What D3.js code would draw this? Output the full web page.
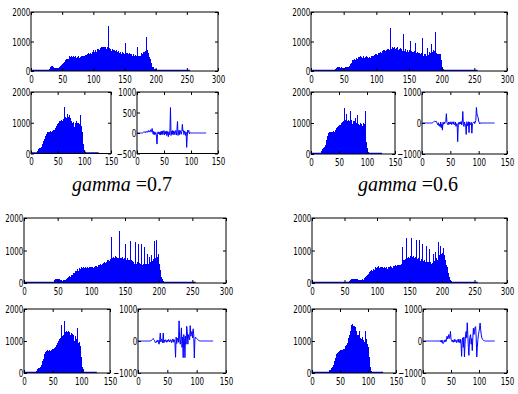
<!DOCTYPE html>
<html><head><meta charset="utf-8">
<script src="https://cdn.jsdelivr.net/npm/d3@7"></script>
<style>
html,body{margin:0;padding:0;background:#fff;}
svg{display:block;}
.tick text{font-family:"Liberation Sans Narrow","Arial Narrow","DejaVu Sans Condensed","Liberation Sans",sans-serif;font-size:11px;fill:#000;}
.cap{font-family:"Liberation Serif","Times New Roman",serif;font-size:20px;fill:#000;}
</style></head><body>
<svg id="chart" width="518" height="394"></svg>
<script>
// ---------- tick labels ----------
const bigXTicks = [0, 50, 100, 150, 200, 250, 300];
const smallXTicks = [0, 50, 100, 150];
const histYTicks = [0, 1000, 2000];
const diffYTicksA = [-500, 0, 500, 1000];
const diffYTicksB = [-1000, 0, 1000];
const captionWord = "gamma";
const captionValues = ["0.7", "0.6"];

// ---------- group 1 (gamma = 0.7) ----------
const big1Start = 28;
const big1 = [20,40,80,120,150,160,170,150,
130,110,100,90,100,110,100,90,110,120,130,150,
160,190,210,230,260,300,280,320,370,400,410,380,
420,470,500,450,480,510,440,470,500,460,420,480,
500,450,470,430,490,500,450,480,440,500,510,470,
520,480,500,540,500,530,560,510,580,600,560,590,
620,570,600,640,610,700,650,680,720,660,700,740,
690,760,720,780,740,800,770,810,760,800,830,780,
820,760,800,720,780,1520,780,700,740,680,720,760,
700,660,720,680,640,700,660,620,680,640,600,660,
620,580,640,600,560,620,580,600,940,600,560,620,
580,540,600,560,520,580,540,500,560,520,500,540,
500,480,520,810,500,460,520,480,500,540,600,580,
620,660,640,690,660,700,1140,700,620,560,480,400,
330,260,200,150,120,100,80,70,60,60,50,30,
20,15,10,8,5,3,2];
const small1Start = 12;
const small1 = [30,80,150,170,160,190,180,200,210,250,300,360,
400,450,480,520,560,640,680,700,690,710,680,700,
720,690,700,680,720,700,740,760,780,800,820,860,
880,920,950,980,1000,1050,1020,1060,1000,1080,1100,1060,
1120,1080,1500,1150,1100,1200,1080,1160,1100,1300,1050,1200,
1250,1000,1150,1050,980,1000,950,1020,900,720,850,1000,
950,1000,1050,920,980,1000,900,950,1260,980,900,850,
700,500,300,180,100,60,40,25,15,10,5];
const diff1Start = 10;
const diff1 = [0,10,20,30,20,30,10,40,20,30,20,60,
30,40,20,80,40,30,110,20,-30,40,-40,20,
-30,10,-80,-270,-40,30,-20,20,-40,30,-50,40,
-30,50,-40,20,60,-50,30,-20,50,-60,40,-30,
-90,30,-40,50,620,-60,40,-30,60,-40,50,30,
-40,60,30,-50,90,280,-60,40,70,-40,60,30,
-30,40,210,50,60,-40,50,30,-60,20,-350,-80,
70,20,60,-20,10,5,0];

// ---------- group 2 (gamma = 0.6) ----------
const big2Start = 36;
const big2 = [20,40,70,100,120,140,130,140,120,110,130,100,
110,100,90,110,100,120,110,130,120,140,150,170,
200,240,280,320,360,380,350,400,370,420,450,400,
460,430,480,450,500,460,490,440,480,500,450,490,
470,500,460,480,450,490,470,440,500,460,520,480,
500,540,520,560,520,580,540,600,560,620,580,640,
600,680,640,700,660,720,680,700,660,740,700,760,
720,780,1470,760,820,700,780,720,820,760,700,780,
740,800,700,760,720,780,700,740,680,1250,720,680,
760,700,660,720,680,640,700,660,1020,640,680,620,
660,640,600,680,940,620,580,640,600,560,620,580,
540,600,1130,560,520,580,540,500,560,520,770,560,
540,600,640,620,680,930,660,700,640,680,600,1320,
620,580,520,560,580,540,560,360,200,120,80,60,
50,40,40,30,30,25,20,20,15,15,10,10,
10,10,8,8,6,6,5,5,4,3];
const small2Start = 16;
const small2 = [20,40,60,100,120,150,180,200,220,260,300,380,
450,520,580,640,680,700,690,710,700,720,680,700,
720,740,700,760,780,800,840,820,880,900,860,920,
950,900,980,1000,1040,1000,1080,1480,1050,1000,1100,1060,
1300,1080,1020,1100,1000,1050,1380,1000,1100,1020,960,1080,
1000,1050,980,1020,1150,960,1000,1250,920,980,900,950,
1000,880,940,980,900,960,1000,920,980,1390,900,400,
200,100,60,40,25,15,10,8,6,5,3];
const diff2Start = 18;
const diff2 = [0,10,30,50,60,40,50,60,20,-20,-60,10,
-90,-40,-120,30,-150,-30,-230,20,-40,30,-20,40,
60,300,20,-30,-60,30,-40,20,-30,40,-50,20,
30,-40,40,-30,-60,30,-110,-30,-20,-600,-60,20,
-40,30,-30,50,-60,20,370,-40,-110,30,-60,-50,
-370,40,-30,-100,40,-310,30,-40,-60,20,-330,-20,
10,20,40,-20,30,80,500,300,220,180,60,20,
-30,0,10,0];

// ---------- group 3 ----------
const big3Start = 44;
const big3 = [20,50,80,110,130,120,110,130,100,120,90,80,
90,70,80,70,90,80,100,120,140,160,180,200,
220,200,240,260,250,280,300,320,340,380,360,400,
420,380,440,460,420,480,500,460,480,440,470,480,
60,460,480,500,470,490,460,480,500,470,480,450,
500,470,520,480,530,500,540,510,560,530,580,550,
600,570,620,590,640,610,660,620,700,660,720,690,
700,740,1420,760,720,800,780,760,820,740,800,760,
780,740,1600,780,720,760,800,700,740,780,1200,740,
700,760,680,720,700,660,1280,700,640,680,620,660,
600,640,1250,600,640,580,1200,620,560,600,1190,560,
540,600,560,1100,600,540,580,900,560,600,620,800,
640,700,850,680,740,700,1300,760,720,1320,800,760,
900,600,400,250,180,120,80,50,40,30,25,20,
20,15,15,12,10,10,8,8,6,5,5,4,3,3,2,2,2];
const small3Start = 20;
const small3 = [20,40,60,80,120,150,130,160,200,180,220,250,
300,380,450,520,580,620,660,700,680,720,690,700,
680,720,700,690,720,740,700,760,740,780,760,800,
820,860,900,940,980,1000,1050,1020,1100,1500,1080,1150,
1050,1200,1640,1100,1280,1200,1300,1150,1290,1250,1300,1180,
1280,1200,1250,1100,1220,1150,1180,1050,1000,1100,1150,980,
1050,1400,1000,950,980,900,850,700,500,350,200,120,
70,40,25,15,10,6,4];
const diff3Start = 22;
const diff3 = [0,20,40,60,80,40,20,-30,-60,-40,10,-20,
30,-60,-100,40,250,-30,60,20,-50,250,-60,30,
-20,40,10,-40,30,-20,50,20,-30,40,30,-50,
20,60,-40,50,30,-60,-510,120,-80,90,30,-40,
630,50,-100,60,410,-200,120,-520,200,80,-520,150,
-100,460,300,-100,200,100,40,480,150,200,300,100,
380,200,-530,50,120,100,80,60,40,20,10,5,
0];

// ---------- group 4 ----------
const big4Start = 56;
const big4 = [20,40,60,80,100,110,120,110,130,120,110,125,
130,120,110,90,100,80,90,100,80,90,110,100,
120,150,170,200,230,220,260,290,300,340,360,380,
400,370,420,440,400,460,480,450,500,480,520,500,
470,500,460,490,470,500,450,480,500,460,490,470,
440,480,460,500,470,510,480,500,460,510,480,520,
500,540,510,550,520,560,530,540,560,520,580,1120,
700,660,720,680,740,700,1380,760,720,800,780,820,
760,1390,800,760,820,780,740,800,760,1330,740,700,
760,1330,720,680,740,700,1200,680,640,700,660,620,
1130,640,600,660,620,1050,600,640,580,620,600,900,
620,680,950,700,760,720,800,1250,860,900,1150,880,
920,860,1080,900,860,700,620,560,500,420,300,200,
150,100,70,50,40,30,30,25,20,20,15,15,
12,12,10,10,10,8,8,8,6,6,5,5,4,4,3,3,2];
const small4Start = 28;
const small4 = [10,20,40,60,80,100,120,160,180,200,170,240,
300,380,460,520,580,620,600,660,640,700,680,720,
700,730,690,720,710,740,760,800,840,820,880,900,
940,1100,1020,1200,1150,1300,1500,1380,1520,1420,1480,1400,
1460,1380,1440,1300,1250,1200,1150,1180,1100,1300,1050,1100,
1000,1050,1110,1000,1040,980,950,1000,1300,1050,1000,900,
800,650,500,350,200,100,50,30,20,12,8,5,
4,3,2,2];
const diff4Start = 28;
const diff4 = [0,-10,10,-20,20,-40,30,-60,-80,-40,20,-30,
40,-20,60,150,60,100,200,80,120,300,60,20,
-20,30,-40,20,50,-30,40,20,-50,30,40,-40,
60,20,-60,50,-100,-480,30,100,-200,120,-500,-100,
200,300,100,570,200,-200,-450,0,150,200,-100,80,
-300,100,400,200,300,430,450,100,-500,-200,50,200,
300,400,560,350,200,100,60,40,20,10,5,0,
0];

// ---------- drawing ----------
const svg = d3.select("#chart");
const BLUE = "#0000ff";
const fmt = d3.format("d");
let clipN = 0;

function drawPanel(box, xDomain, xTicks, yDomain, yTicks, kind, start, values, nBins) {
  const [x0, y0, x1, y1] = box;
  const x = d3.scaleLinear().domain(xDomain).range([x0, x1]);
  const y = d3.scaleLinear().domain(yDomain).range([y1, y0]);
  const g = svg.append("g");
  const cid = "clip" + (clipN++);
  svg.append("clipPath").attr("id", cid).append("rect")
    .attr("x", x0).attr("y", y0).attr("width", x1 - x0).attr("height", y1 - y0);
  const inner = g.append("g").attr("clip-path", `url(#${cid})`);

  if (kind === "hist") {
    inner.append("line")
      .attr("x1", x(0)).attr("x2", x(nBins - 1))
      .attr("y1", y(0) - 0.5).attr("y2", y(0) - 0.5)
      .attr("stroke", BLUE).attr("stroke-width", 1.5);
    const data = values.map((v, i) => ({ bin: start + i, v }));
    inner.selectAll("line.stem").data(data).join("line")
      .attr("class", "stem")
      .attr("x1", d => x(d.bin)).attr("x2", d => x(d.bin))
      .attr("y1", y(0)).attr("y2", d => y(d.v))
      .attr("stroke", BLUE).attr("stroke-width", 1)
      .attr("shape-rendering", "crispEdges");
  } else {
    const full = [];
    for (let i = 0; i < nBins; i++) {
      const j = i - start;
      full.push({ bin: i, v: (j >= 0 && j < values.length) ? values[j] : 0 });
    }
    inner.append("path").datum(full)
      .attr("d", d3.line().x(d => x(d.bin)).y(d => y(d.v)))
      .attr("fill", "none").attr("stroke", BLUE).attr("stroke-width", 1);
  }

  // axes with inward ticks
  const axB = g.append("g").attr("transform", `translate(0,${y1})`)
    .call(d3.axisBottom(x).tickValues(xTicks).tickFormat(fmt).tickSizeInner(-3).tickSizeOuter(0).tickPadding(4));
  const axT = g.append("g").attr("transform", `translate(0,${y0})`)
    .call(d3.axisTop(x).tickValues(xTicks).tickSizeInner(-3).tickSizeOuter(0).tickFormat(""));
  const axL = g.append("g").attr("transform", `translate(${x0},0)`)
    .call(d3.axisLeft(y).tickValues(yTicks).tickFormat(fmt).tickSizeInner(-3).tickSizeOuter(0).tickPadding(1));
  const axR = g.append("g").attr("transform", `translate(${x1},0)`)
    .call(d3.axisRight(y).tickValues(yTicks).tickSizeInner(-3).tickSizeOuter(0).tickFormat(""));
  [axB, axT, axL, axR].forEach(a => {
    a.select(".domain").remove();
    a.selectAll(".tick line").attr("stroke", "#000");
  });
  axL.selectAll(".tick text").attr("dy", "0.35em");
  // condensed look of the original tick labels
  axB.selectAll(".tick text").attr("transform", "scale(0.72,1)");
  axL.selectAll(".tick text").attr("transform", "scale(0.72,1)");

  g.append("rect").attr("x", x0).attr("y", y0)
    .attr("width", x1 - x0).attr("height", y1 - y0)
    .attr("fill", "none").attr("stroke", "#000").attr("stroke-width", 1);
}

const groups = [
  { big: [31, 12, 218, 71], small: [31, 92, 111, 153.5], diff: [137, 92, 218, 153.5],
    bs: big1Start, b: big1, ss: small1Start, s: small1, ds: diff1Start, d: diff1, dTicks: diffYTicksA, dDom: [-500, 1000] },
  { big: [311, 12, 507, 71], small: [311, 92, 395, 154], diff: [422, 92, 507, 154],
    bs: big2Start, b: big2, ss: small2Start, s: small2, ds: diff2Start, d: diff2, dTicks: diffYTicksB, dDom: [-1000, 1000] },
  { big: [24, 218, 226, 283], small: [24, 309, 110, 373], diff: [138, 309, 226, 373],
    bs: big3Start, b: big3, ss: small3Start, s: small3, ds: diff3Start, d: diff3, dTicks: diffYTicksB, dDom: [-1000, 1000] },
  { big: [312, 218, 507, 283], small: [312, 309, 396, 373], diff: [423, 309, 507, 373],
    bs: big4Start, b: big4, ss: small4Start, s: small4, ds: diff4Start, d: diff4, dTicks: diffYTicksB, dDom: [-1000, 1000] }
];

groups.forEach(gr => {
  drawPanel(gr.big, [0, 300], bigXTicks, [0, 2000], histYTicks, "hist", gr.bs, gr.b, 256);
  drawPanel(gr.small, [0, 150], smallXTicks, [0, 2000], histYTicks, "hist", gr.ss, gr.s, 128);
  drawPanel(gr.diff, [0, 150], smallXTicks, gr.dDom, gr.dTicks, "line", gr.ds, gr.d, 129);
});

// captions
const capX = [122, 408];
captionValues.forEach((val, i) => {
  const t = svg.append("text").attr("class", "cap")
    .attr("x", capX[i]).attr("y", 191).attr("text-anchor", "middle");
  t.append("tspan").attr("font-style", "italic").text(captionWord);
  t.append("tspan").text(" =" + val);
});
</script>
</body></html>
